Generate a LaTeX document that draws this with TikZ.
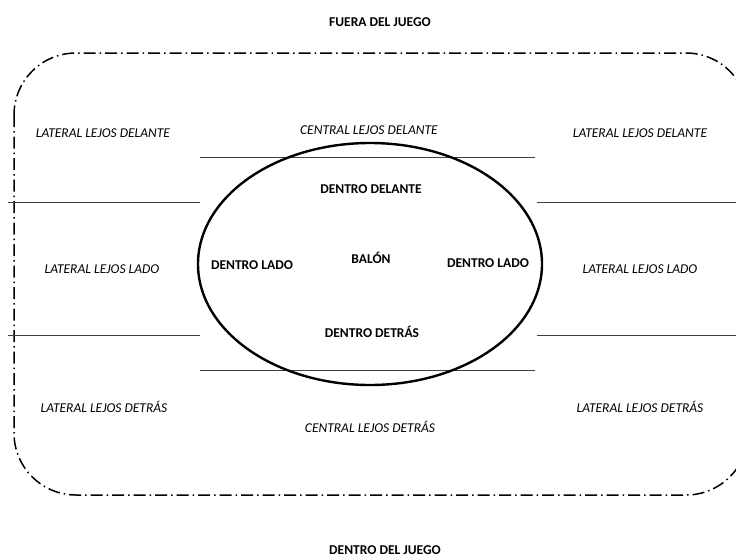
\documentclass[tikz,border=0pt]{standalone}
\usepackage{fontspec}
\setmainfont{Carlito}
\begin{document}
\begin{tikzpicture}[x=1pt,y=-1pt,
  lbl/.style={font=\fontsize{13.5}{15}\selectfont\itshape, inner sep=1pt},
  blbl/.style={font=\fontsize{13.5}{15}\selectfont\bfseries, inner sep=1pt},
  boundary/.style={line width=1.5pt, dash pattern=on 12pt off 4pt on 1.5pt off 4pt},
  sep/.style={line width=0.8pt, draw=black!75}]
\useasboundingbox (0,0) rectangle (736,557);
% outer play area
\draw[boundary, rounded corners=62pt] (14,53) rectangle (748,495);
% separator lines
\draw[sep] (200,157) -- (535,157);
\draw[sep] (200,370) -- (535,370);
\draw[sep] (8,202) -- (200,202);
\draw[sep] (537,202) -- (736,202);
\draw[sep] (8,335) -- (200,335);
\draw[sep] (537,335) -- (736,335);
% ball zone
\draw[line width=2.4pt] (370,264) ellipse [x radius=172, y radius=121];
% labels
\node[blbl] (fuera) at (380,22) {FUERA DEL JUEGO};
\node[blbl] (dentrojuego) at (385,550) {DENTRO DEL JUEGO};
\node[lbl] (lld1) at (103,133) {LATERAL LEJOS DELANTE};
\node[lbl] (lld2) at (640,133) {LATERAL LEJOS DELANTE};
\node[lbl] (cld) at (369,130) {CENTRAL LEJOS DELANTE};
\node[blbl] (dd) at (371,189) {DENTRO DELANTE};
\node[blbl] (dl1) at (252,265) {DENTRO LADO};
\node[blbl] (balon) at (371,258) {BALÓN};
\node[blbl] (dl2) at (488,263) {DENTRO LADO};
\node[blbl] (ddet) at (372,332) {DENTRO DETRÁS};
\node[lbl] (lll1) at (102,269) {LATERAL LEJOS LADO};
\node[lbl] (lll2) at (640,269) {LATERAL LEJOS LADO};
\node[lbl] (lldt1) at (104,407) {LATERAL LEJOS DETRÁS};
\node[lbl] (lldt2) at (640,407) {LATERAL LEJOS DETRÁS};
\node[lbl] (cldt) at (370,427) {CENTRAL LEJOS DETRÁS};
\end{tikzpicture}
\end{document}
